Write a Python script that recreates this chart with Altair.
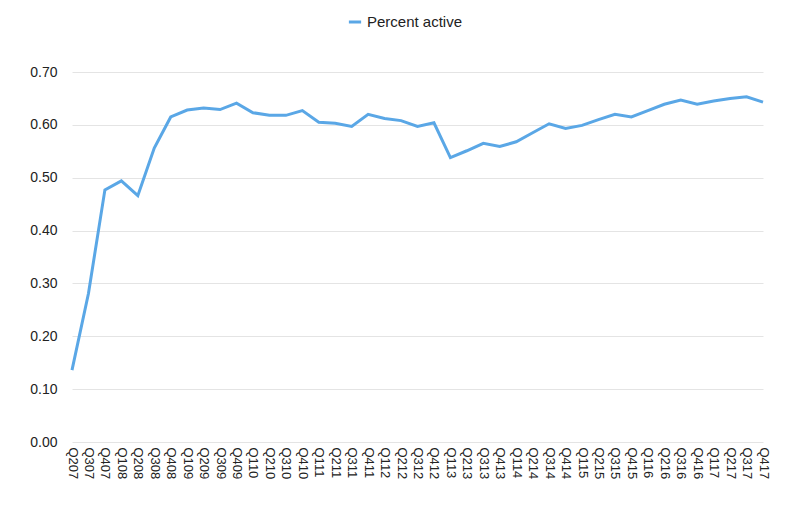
import altair as alt
import pandas as pd

quarters = ["Q207", "Q307", "Q407"] + [f"Q{q}{y:02d}" for y in range(8, 18) for q in range(1, 5)]
values = [0.136, 0.281, 0.477, 0.494, 0.466, 0.556, 0.615, 0.628, 0.632, 0.629,
          0.641, 0.623, 0.618, 0.618, 0.627, 0.605, 0.603, 0.597, 0.620, 0.612,
          0.608, 0.597, 0.604, 0.538, 0.551, 0.565, 0.559, 0.568, 0.585, 0.602,
          0.593, 0.599, 0.610, 0.620, 0.615, 0.627, 0.639, 0.647, 0.639, 0.645,
          0.650, 0.653, 0.643]
series_name = "Percent active"
y_ticks = [0.0, 0.1, 0.2, 0.3, 0.4, 0.5, 0.6, 0.7]

df = pd.DataFrame({"quarter": quarters, "value": values, "series": series_name})

FONT = "Liberation Sans"
COLOR = "#5aa7e6"

chart = alt.Chart(df).mark_line(strokeWidth=3, color=COLOR).encode(
    x=alt.X("quarter:O", sort=quarters, title=None,
            scale=alt.Scale(type="point", padding=0),
            axis=alt.Axis(labelAngle=90, labelFontSize=13, labelFont=FONT,
                          labelColor="#222222", domain=False, ticks=False,
                          labelPadding=5, grid=False, labelOverlap=False)),
    y=alt.Y("value:Q", title=None,
            scale=alt.Scale(domain=[0, 0.7], nice=False, zero=True),
            axis=alt.Axis(values=y_ticks, format=".2f", labelFontSize=14,
                          labelFont=FONT, labelColor="#222222", domain=False,
                          ticks=False, labelPadding=15, gridColor="#e4e4e4",
                          gridWidth=1)),
    color=alt.Color("series:N", title=None,
                    scale=alt.Scale(domain=[series_name], range=[COLOR]),
                    legend=alt.Legend(orient="none", legendX=275, legendY=-58,
                                      direction="horizontal", symbolType="stroke",
                                      symbolStrokeWidth=3, symbolSize=150,
                                      labelFontSize=15, labelFont=FONT,
                                      labelColor="#222222")),
).properties(
    width=691, height=370,
    autosize=alt.AutoSizeParams(type="none"),
    padding={"left": 64, "top": 64, "right": 20, "bottom": 60},
).configure_view(stroke=None)

chart.save("out.html", embed_options={"renderer": "svg", "actions": False})
